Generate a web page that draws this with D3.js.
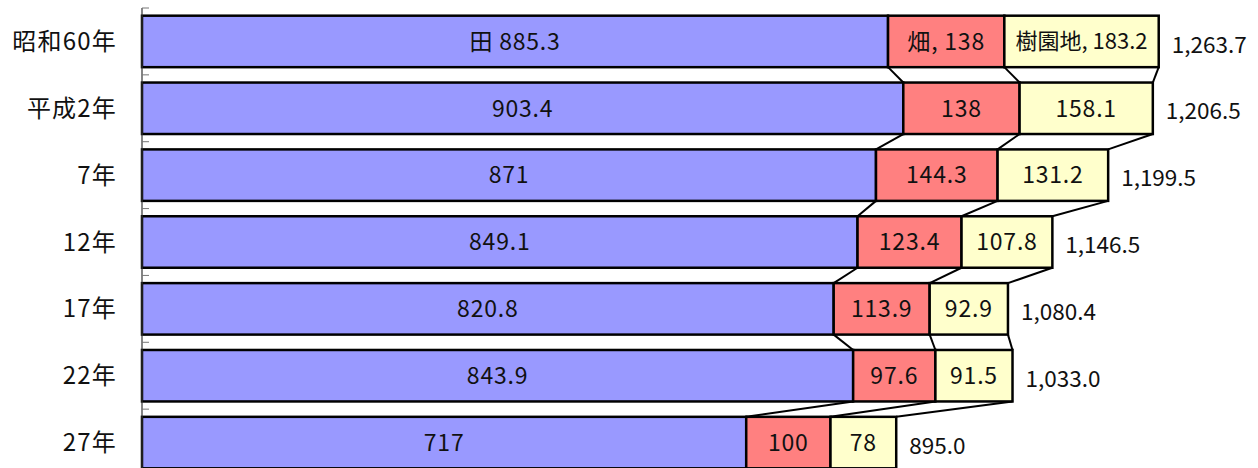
<!DOCTYPE html>
<html><head><meta charset="utf-8">
<script src="https://cdn.jsdelivr.net/npm/d3@7"></script>
<style>body{margin:0;background:#fff}svg{display:block}text{font-family:"Noto Sans CJK JP","Noto Sans",sans-serif;fill:#111}</style>
</head><body><div id="c"></div>
<script>
const categories = ["昭和60年","平成2年","7年","12年","17年","22年","27年"];
const paddy = [885.3, 903.4, 871, 849.1, 820.8, 843.9, 717];
const field = [138, 138, 144.3, 123.4, 113.9, 97.6, 100];
const orchard = [183.2, 158.1, 131.2, 107.8, 92.9, 91.5, 78];
const totalLabels = ["1,263.7","1,206.5","1,199.5","1,146.5","1,080.4","1,033.0","895.0"];
const seriesNames = ["田","畑","樹園地"];
const colors = ["#9999FF","#FF8080","#FFFFCC"];

const W = 1258, H = 468;
const svg = d3.select("#c").append("svg").attr("width", W).attr("height", H);
const x = d3.scaleLinear().domain([0, 1300]).range([142, 142 + 1300 * 0.8427]);
const y = d3.scaleBand().domain(categories).range([8, 476]).paddingInner(0.23).paddingOuter(0.115);
const step = y.step();

const series = [paddy, field, orchard];
const rows = categories.map((c, i) => {
  let acc = 0;
  const segs = series.map((s, k) => { const x0 = acc; acc += s[i]; return {k, x0, x1: acc, v: s[i], i}; });
  return {c, i, segs, total: acc};
});

// connector lines
const conn = svg.append("g");
for (let i = 0; i < rows.length - 1; i++) {
  rows[i].segs.forEach((s, k) => {
    const n = rows[i + 1].segs[k];
    conn.append("line")
      .attr("x1", x(s.x1)).attr("y1", y(categories[i]) + y.bandwidth())
      .attr("x2", x(n.x1)).attr("y2", y(categories[i + 1]))
      .attr("stroke", "#000").attr("stroke-width", 2);
  });
}

// bars
const g = svg.append("g");
rows.forEach(r => {
  r.segs.forEach(s => {
    g.append("rect")
      .attr("x", x(s.x0)).attr("y", y(r.c))
      .attr("width", x(s.x1) - x(s.x0)).attr("height", y.bandwidth())
      .attr("fill", colors[s.k]).attr("stroke", "#000").attr("stroke-width", 2.5);
    const lbl = r.i === 0 ? (s.k === 0 ? seriesNames[0] + " " + s.v : seriesNames[s.k] + ", " + s.v) : String(s.v);
    g.append("text")
      .attr("x", (x(s.x0) + x(s.x1)) / 2).attr("y", y(r.c) + y.bandwidth() / 2)
      .attr("dy", "0.36em").attr("text-anchor", "middle")
      .attr("font-size", r.i === 0 && s.k === 2 ? 22 : 23)
      .attr("letter-spacing", r.i === 0 && s.k === 2 ? 0 : 0.8)
      .text(lbl);
  });
  g.append("text")
    .attr("x", x(r.total) + 13).attr("y", y(r.c) + y.bandwidth() / 2 + 3)
    .attr("dy", "0.36em").attr("font-size", 22.5)
    .text(totalLabels[r.i]);
});

// axis
const ax = svg.append("g");
ax.append("line").attr("x1", 142).attr("x2", 142).attr("y1", 8).attr("y2", 476)
  .attr("stroke", "#333").attr("stroke-width", 1.2);
d3.range(categories.length).forEach(i => {
  ax.append("line").attr("x1", 142).attr("x2", 149).attr("y1", 8 + i * step).attr("y2", 8 + i * step)
    .attr("stroke", "#777").attr("stroke-width", 1);
});
ax.selectAll("text.cat").data(categories).join("text")
  .attr("x", 117).attr("y", d => y(d) + y.bandwidth() / 2)
  .attr("dy", "0.36em").attr("text-anchor", "end").attr("font-size", 24)
  .attr("letter-spacing", 1.2)
  .text(d => d);
</script></body></html>
